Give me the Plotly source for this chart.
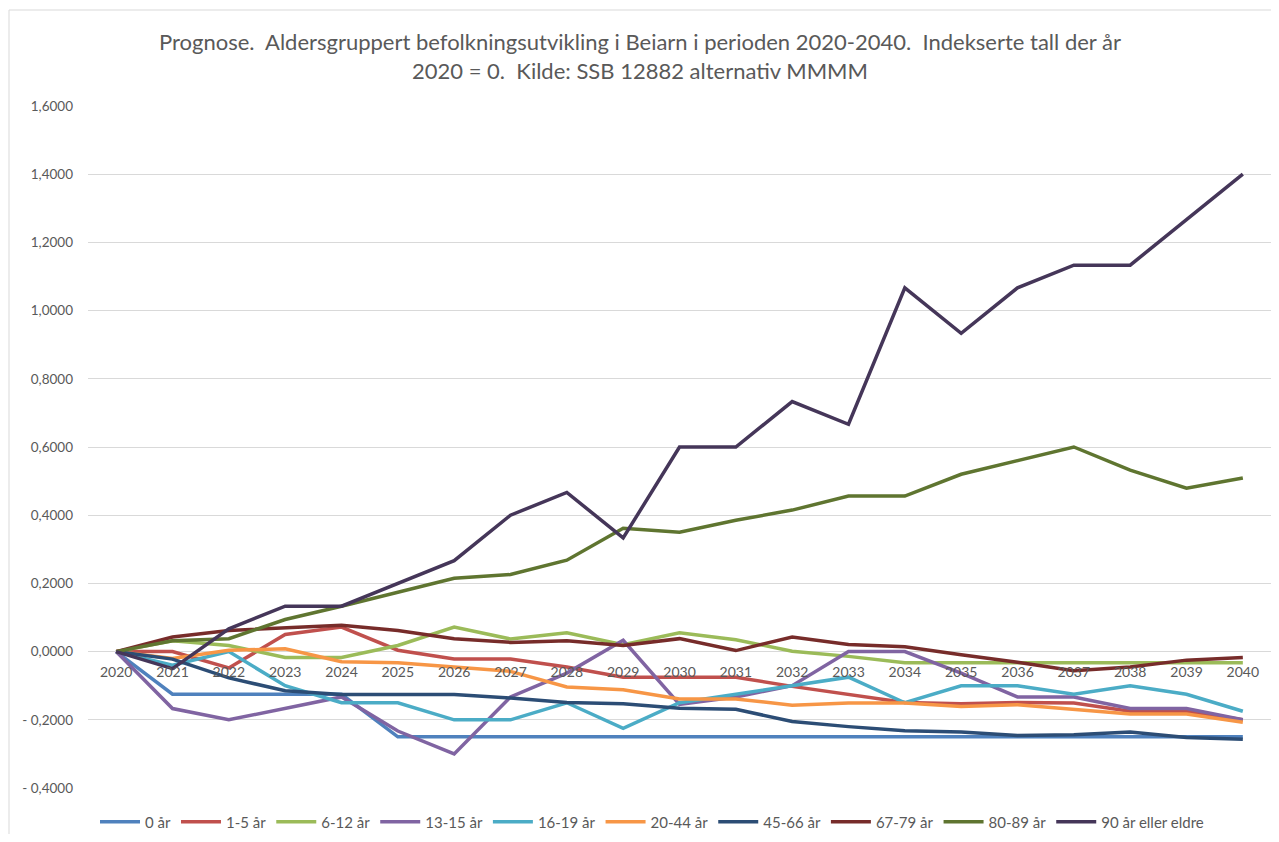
import plotly.graph_objects as go

years = [str(y) for y in range(2020, 2041)]

names = ["0 år", "1-5 år", "6-12 år", "13-15 år", "16-19 år", "20-44 år",
         "45-66 år", "67-79 år", "80-89 år", "90 år eller eldre"]

v_0 = [0, -0.125, -0.125, -0.125, -0.125, -0.25, -0.25, -0.25, -0.25, -0.25, -0.25,
       -0.25, -0.25, -0.25, -0.25, -0.25, -0.25, -0.25, -0.25, -0.25, -0.25]
v_1_5 = [0, 0.0, -0.048, 0.05, 0.072, 0.004, -0.022, -0.022, -0.045, -0.075, -0.075,
         -0.075, -0.102, -0.126, -0.149, -0.153, -0.149, -0.151, -0.175, -0.175, -0.2]
v_6_12 = [0, 0.032, 0.018, -0.017, -0.017, 0.018, 0.072, 0.037, 0.055, 0.02, 0.055,
          0.035, 0.001, -0.014, -0.033, -0.033, -0.033, -0.033, -0.033, -0.033, -0.033]
v_13_15 = [0, -0.167, -0.2, -0.167, -0.133, -0.233, -0.3, -0.133, -0.063, 0.033, -0.155,
           -0.133, -0.1, 0.0, 0.0, -0.063, -0.133, -0.133, -0.167, -0.167, -0.2]
v_16_19 = [0, -0.04, 0.0, -0.1, -0.15, -0.15, -0.2, -0.2, -0.15, -0.225, -0.15,
           -0.125, -0.1, -0.075, -0.15, -0.1, -0.1, -0.125, -0.1, -0.125, -0.175]
v_20_44 = [0, -0.02, 0.004, 0.008, -0.03, -0.033, -0.045, -0.058, -0.104, -0.112, -0.139,
           -0.139, -0.157, -0.151, -0.151, -0.161, -0.156, -0.169, -0.183, -0.183, -0.207]
v_45_66 = [0, -0.022, -0.077, -0.115, -0.126, -0.126, -0.126, -0.136, -0.149, -0.153, -0.166,
           -0.169, -0.205, -0.22, -0.232, -0.236, -0.246, -0.244, -0.236, -0.252, -0.257]
v_67_79 = [0, 0.043, 0.062, 0.07, 0.077, 0.062, 0.038, 0.027, 0.032, 0.018, 0.038,
           0.003, 0.043, 0.021, 0.014, -0.009, -0.031, -0.056, -0.045, -0.025, -0.017]
v_80_89 = [0, 0.032, 0.038, 0.094, 0.133, 0.175, 0.215, 0.226, 0.268, 0.362, 0.35,
           0.385, 0.415, 0.456, 0.456, 0.52, 0.559, 0.6, 0.532, 0.479, 0.509]
v_90 = [0, -0.05, 0.0667, 0.1333, 0.1333, 0.2, 0.2667, 0.4, 0.4667, 0.3333, 0.6,
        0.6, 0.7333, 0.6667, 1.0667, 0.9333, 1.0667, 1.1333, 1.1333, 1.2667, 1.4]

series = [v_0, v_1_5, v_6_12, v_13_15, v_16_19, v_20_44, v_45_66, v_67_79, v_80_89, v_90]
colors = ["#4F81BD", "#C0504D", "#9BBB59", "#8064A2", "#4BACC6", "#F79646",
          "#2C4D75", "#772C2A", "#5F7530", "#453659"]

y_tickvals = [-0.4, -0.2, 0, 0.2, 0.4, 0.6, 0.8, 1.0, 1.2, 1.4, 1.6]
y_ticktext = ["- 0,4000", "- 0,2000", "0,0000", "0,2000", "0,4000", "0,6000",
              "0,8000", "1,0000", "1,2000", "1,4000", "1,6000"]

title_text = ("Prognose.  Aldersgruppert befolkningsutvikling i Beiarn i perioden 2020-2040.  "
              "Indekserte tall der år<br>2020 = 0.  Kilde: SSB 12882 alternativ MMMM")

FONT = "Lato, 'Open Sans', sans-serif"
GREY = "#595959"

fig = go.Figure()
for name, vals, col in zip(names, series, colors):
    fig.add_trace(go.Scatter(x=years, y=vals, name=name, mode="lines",
                             line=dict(color=col, width=3.5)))

# page body adds an 8px margin, so figure coordinates = screen coordinates - 8
D = 8
W, H = 1279 - 2 * D, 842 - 2 * D
ml, mr, mt, mb = 88 - D, 0, 106 - D, H - (788 - D)
pw, ph = W - ml - mr, H - mt - mb

fig.update_layout(
    width=W, height=H,
    margin=dict(l=ml, r=mr, t=mt, b=mb, pad=0, autoexpand=False),
    paper_bgcolor="white", plot_bgcolor="white",
    font=dict(family=FONT, color=GREY, size=13),
    title=dict(text=title_text, x=(640 - D) / W, xref="container", xanchor="center",
               y=1 - (50 - D) / H, yref="container", yanchor="middle",
               font=dict(family=FONT, size=22, color=GREY)),
    xaxis=dict(type="category", range=[-0.5, 20.5], anchor="free", position=0.2,
               showgrid=False, showline=False, ticks="", zeroline=False,
               ticklabelstandoff=10, automargin=False,
               tickfont=dict(size=14, color=GREY)),
    yaxis=dict(range=[-0.4, 1.6], tickvals=y_tickvals, ticktext=y_ticktext,
               showgrid=True, gridcolor="#D9D9D9", gridwidth=1,
               zeroline=True, zerolinecolor="#D9D9D9", zerolinewidth=1,
               showline=False, ticks="", ticklabelstandoff=14, automargin=False,
               tickfont=dict(size=13.5, color=GREY)),
    legend=dict(orientation="h", xref="container", x=(652 - D) / W, xanchor="center",
                yref="container", y=1 - (822 - D) / H, yanchor="middle",
                font=dict(size=15, color=GREY), itemwidth=40,
                bgcolor="rgba(0,0,0,0)"),
    showlegend=True,
    shapes=[dict(type="rect", xref="paper", yref="paper",
                 x0=(9 - D - ml) / pw, x1=(W + 20 - ml) / pw,
                 y0=(mt + ph - (10 - D)) / ph, y1=(mt + ph - (H + 20)) / ph,
                 line=dict(color="#D9D9D9", width=1), layer="above")],
)

fig.write_html("out.html")
